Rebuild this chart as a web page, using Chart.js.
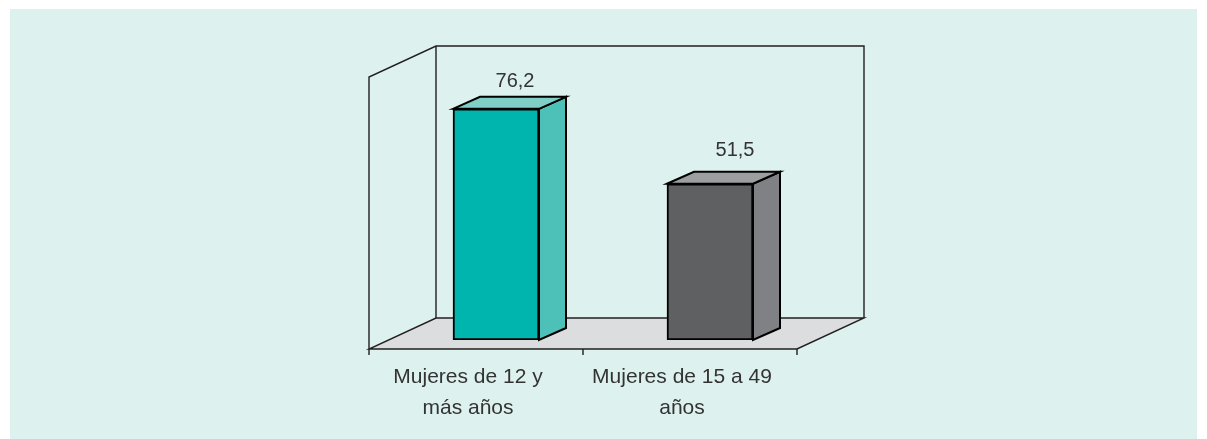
<!DOCTYPE html>
<html>
<head>
<meta charset="utf-8">
<script src="https://cdn.jsdelivr.net/npm/chart.js@4"></script>
<style>
html, body { margin: 0; padding: 0; background: #fff; overflow: hidden; }
#panel { position: absolute; left: 10px; top: 9px; width: 1187px; height: 430px; background: #ddf1ee; }
#myChart { position: absolute; left: 0; top: 0; }
</style>
</head>
<body>
<div id="panel"></div>
<canvas id="myChart" width="1207" height="439"></canvas>
<script>
const categorias = [["Mujeres de 12 y", "más años"], ["Mujeres de 15 a 49", "años"]];
const valores = [76.2, 51.5];
const etiquetasValor = ["76,2", "51,5"];

const coloresFrente = ["#00b5ad", "#5f6062"];
const coloresLado = ["#4dc1b8", "#808184"];
const coloresTecho = ["#80cfc7", "#9d9ea0"];
const colorLinea = "#231f20";

// profundidad del efecto 3D
const fondoX = 27, fondoY = 12;

function poligono(ctx, puntos, relleno) {
    ctx.beginPath();
    puntos.forEach((p, i) => i ? ctx.lineTo(p[0], p[1]) : ctx.moveTo(p[0], p[1]));
    ctx.closePath();
    ctx.fillStyle = relleno;
    ctx.fill();
    ctx.stroke();
}

// paredes, piso y marcas del eje, detrás de las barras
const caja3d = {
    id: "caja3d",
    beforeDatasetsDraw(chart) {
        const ctx = chart.ctx, a = chart.chartArea;
        const izq = a.left - 20, der = a.right - 20, abajo = a.bottom + 9, arriba = a.top + 10;
        const dx = 67, dy = 31;
        ctx.save();
        ctx.strokeStyle = colorLinea;
        ctx.lineWidth = 1.4;
        ctx.beginPath();
        ctx.moveTo(izq, abajo);
        ctx.lineTo(izq, arriba);
        ctx.lineTo(izq + dx, arriba - dy);
        ctx.lineTo(der + dx, arriba - dy);
        ctx.lineTo(der + dx, abajo - dy);
        ctx.moveTo(izq + dx, arriba - dy);
        ctx.lineTo(izq + dx, abajo - dy);
        ctx.stroke();
        poligono(ctx, [[izq, abajo], [der, abajo], [der + dx, abajo - dy], [izq + dx, abajo - dy]], "#dcddde");
        ctx.beginPath();
        categorias.concat([0]).forEach((c, i) => {
            const x = izq + i * (der - izq) / categorias.length;
            ctx.moveTo(x, abajo);
            ctx.lineTo(x, abajo + 6);
        });
        ctx.stroke();
        // lado y techo de cada barra
        ctx.strokeStyle = "#000";
        ctx.lineWidth = 2;
        ctx.lineJoin = "miter";
        chart.getDatasetMeta(0).data.forEach((b, i) => {
            const l = b.x - b.width / 2, r = b.x + b.width / 2;
            poligono(ctx, [[r, b.y], [r + fondoX, b.y - fondoY], [r + fondoX, b.base - fondoY], [r, b.base]], coloresLado[i]);
            poligono(ctx, [[l, b.y], [l + fondoX, b.y - fondoY], [r + fondoX, b.y - fondoY], [r, b.y]], coloresTecho[i]);
        });
        ctx.restore();
    },
    afterDatasetsDraw(chart) {
        const ctx = chart.ctx;
        const despX = [19, 25], despY = [27, 33];
        ctx.save();
        ctx.font = "20px 'Liberation Sans'";
        ctx.fillStyle = "#333333";
        ctx.textAlign = "center";
        ctx.textBaseline = "middle";
        chart.getDatasetMeta(0).data.forEach((b, i) => {
            ctx.fillText(etiquetasValor[i], b.x + despX[i], b.y - despY[i]);
        });
        ctx.restore();
    }
};

const $grafica = document.querySelector("#myChart");
new Chart($grafica, {
    type: "bar",
    data: {
        labels: categorias,
        datasets: [{
            data: valores,
            backgroundColor: coloresFrente,
            borderColor: "#000",
            borderWidth: 2,
            borderSkipped: false,
            barThickness: 86
        }]
    },
    options: {
        responsive: false,
        animation: false,
        layout: { padding: { left: 389, right: 390, top: 67, bottom: 0 } },
        plugins: { legend: { display: false }, tooltip: { enabled: false } },
        scales: {
            y: { display: false, min: 0, max: 90 },
            x: {
                afterFit(s) { s.height = 99; },
                grid: { display: false },
                border: { display: false },
                ticks: {
                    color: "#333333",
                    font: { family: "'Liberation Sans'", size: 21, lineHeight: 1.48 },
                    padding: 14,
                    labelOffset: -28,
                    maxRotation: 0,
                    autoSkip: false
                }
            }
        }
    },
    plugins: [caja3d]
});
</script>
</body>
</html>
